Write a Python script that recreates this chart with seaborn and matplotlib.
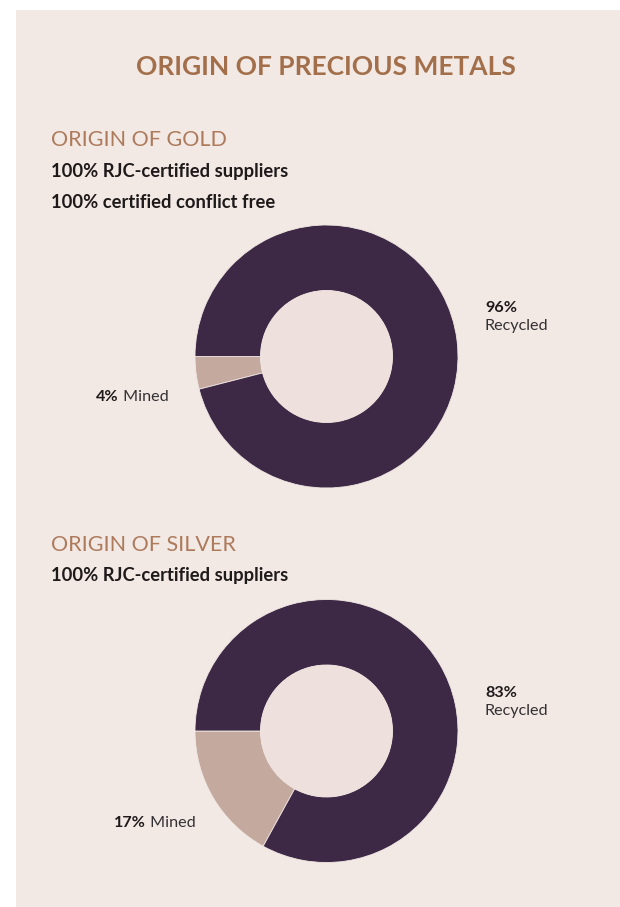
import matplotlib
matplotlib.use("Agg")
import matplotlib.pyplot as plt
from matplotlib.patches import Rectangle, Circle
import seaborn as sns

# Data
gold_labels = ["Mined", "Recycled"]
gold_values = [4, 96]
silver_labels = ["Mined", "Recycled"]
silver_values = [17, 83]

title = "ORIGIN OF PRECIOUS METALS"
gold_heading = "ORIGIN OF GOLD"
gold_notes = ["100% RJC-certified suppliers", "100% certified conflict free"]
silver_heading = "ORIGIN OF SILVER"
silver_notes = ["100% RJC-certified suppliers"]

sns.set_theme(style="white")
plt.rcParams["font.family"] = ["Lato", "DejaVu Sans"]

PANEL = "#F2E8E4"
HOLE = "#EEE1DD"
BROWN = "#A26F4A"
BROWN_LIGHT = "#AD7B5C"
palette = sns.color_palette(["#C4A99F", "#3D2945"])

W, H = 620, 907
fig = plt.figure(figsize=(W / 100, H / 100), dpi=100)
fig.patch.set_facecolor("white")
ax = fig.add_axes([0, 0, 1, 1])
ax.set_xlim(0, W)
ax.set_ylim(0, H)
ax.set_aspect("equal")
ax.axis("off")

# background panel
ax.add_patch(Rectangle((16, 0), W - 16, H - 10, facecolor=PANEL, edgecolor="none", zorder=0))


def Y(y):
    return H - y


ax.text(326, Y(67), title, ha="center", va="center", fontsize=19,
        fontweight="bold", color=BROWN)


def donut(values, labels, cy, heading, hy, notes, ny, pct_label_y, mined_xy):
    cx, r, r_in = 326.5, 131.5, 66
    ax.pie(values, colors=palette, startangle=180, counterclock=True,
           center=(cx, Y(cy)), radius=r,
           wedgeprops=dict(width=r - r_in, edgecolor=PANEL, linewidth=0.6))
    ax.add_patch(Circle((cx, Y(cy)), r_in, facecolor=HOLE, edgecolor="none", zorder=3))
    ax.set_xlim(0, W)
    ax.set_ylim(0, H)

    ax.text(51, Y(hy), heading, ha="left", va="center", fontsize=15.5,
            color=BROWN_LIGHT)
    for note, y in zip(notes, ny):
        ax.text(51, Y(y), note, ha="left", va="center", fontsize=13.2,
                fontweight="bold", color="#1E1A1A")

    mined, recycled = values
    ax.text(485, Y(pct_label_y), f"{recycled}%", ha="left", va="center",
            fontsize=11.6, fontweight="bold", color="#1E1A1A")
    ax.text(485, Y(pct_label_y + 18), labels[1], ha="left", va="center",
            fontsize=11.6, color="#333033")

    mx, my = mined_xy
    ax.text(mx, Y(my), f"{mined}%", ha="right", va="center",
            fontsize=11.6, fontweight="bold", color="#1E1A1A")
    ax.text(mx, Y(my), " " + labels[0], ha="left", va="center", fontsize=11.6,
            color="#333033")


donut(gold_values, gold_labels, 356.5, gold_heading, 140, gold_notes, [171, 203], 308, (119, 397))
donut(silver_values, silver_labels, 731, silver_heading, 545, silver_notes, [576], 693, (146, 823))

fig.savefig("out.png", dpi=100, facecolor="white")
